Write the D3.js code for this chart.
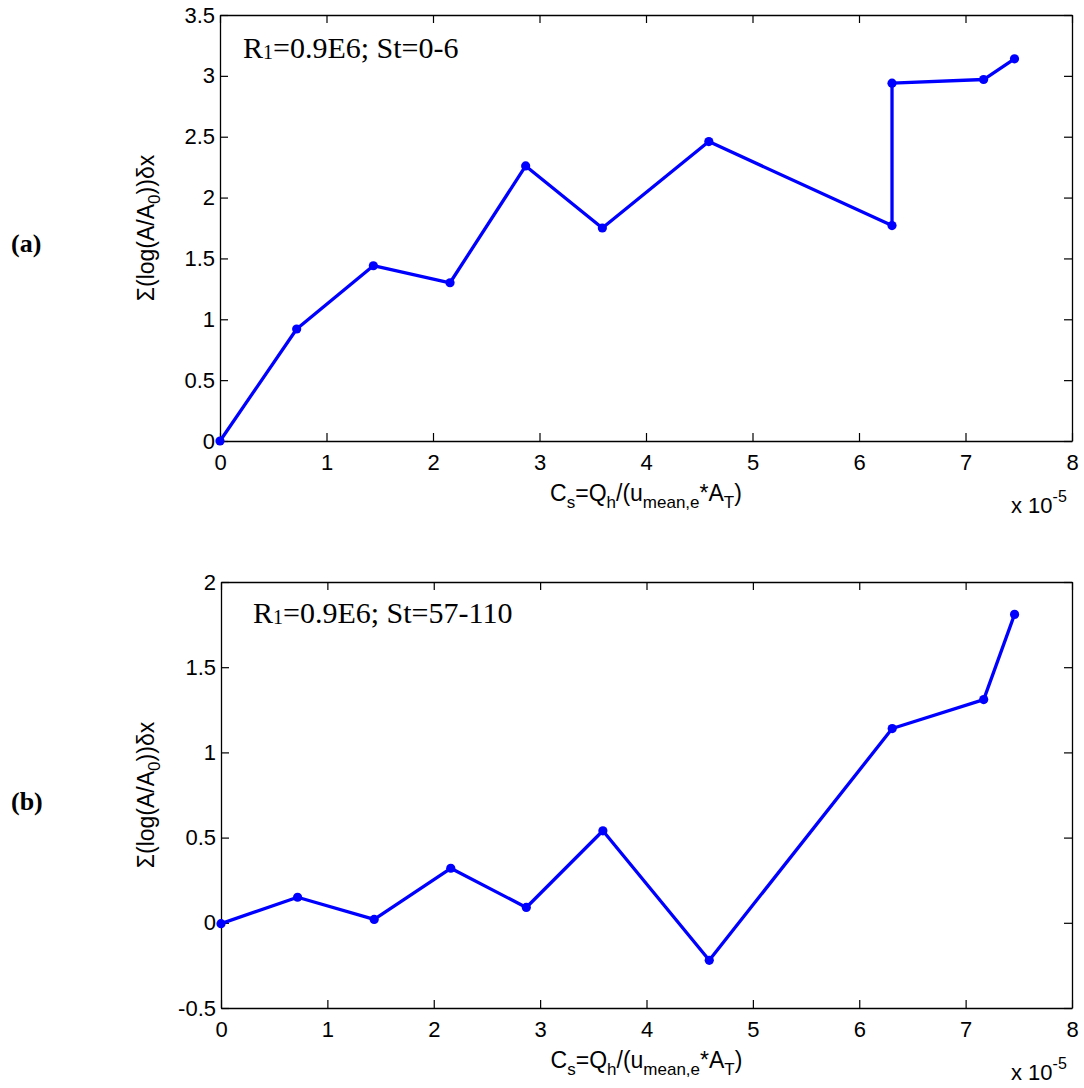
<!DOCTYPE html>
<html><head><meta charset="utf-8">
<script src="https://cdn.jsdelivr.net/npm/d3@7"></script>
<style>
body{margin:0;background:#fff;}
</style></head>
<body>
<svg id="chart" width="1084" height="1088"></svg>
<script>
// ---- data ----
const xTicks = [0,1,2,3,4,5,6,7,8];
const yTicksA = [0,0.5,1,1.5,2,2.5,3,3.5];
const yTicksB = [-0.5,0,0.5,1,1.5,2];
const xA = [0, 0.72, 1.44, 2.16, 2.87, 3.59, 4.59, 6.31, 6.31, 7.17, 7.46];
const yA = [0, 0.92, 1.44, 1.30, 2.26, 1.75, 2.46, 1.77, 2.94, 2.97, 3.14];
const xB = [0, 0.72, 1.44, 2.16, 2.87, 3.59, 4.59, 6.31, 7.17, 7.46];
const yB = [-0.005, 0.15, 0.02, 0.32, 0.09, 0.54, -0.22, 1.14, 1.31, 1.81];
const panelLabels = ["(a)", "(b)"];
const notes = [["R","1","=0.9E6; St=0-6"], ["R","1","=0.9E6; St=57-110"]];

const svg = d3.select("#chart");
const FS = 22;
const LFS = 23;
const SANS = "'Liberation Sans', Arial, sans-serif";
const SERIF = "'Liberation Serif', 'Times New Roman', serif";

function panel(cfg){
  const {left,right,top,bottom,xs,ys,yDomain,yTicks,label,note,noteX,noteY,labelY} = cfg;
  const x = d3.scaleLinear().domain([0,8]).range([left,right]);
  const y = d3.scaleLinear().domain(yDomain).range([bottom,top]);
  const g = svg.append("g").style("font-family",SANS);
  const fmt = d => String(d);

  const styleAxis = sel => {
    sel.attr("font-family",null).attr("font-size",null);
    sel.select(".domain").attr("stroke","#000").attr("stroke-width",1.3);
    sel.selectAll(".tick line").attr("stroke","#000").attr("stroke-width",1.2);
    sel.selectAll(".tick text").style("font-size",FS+"px").attr("fill","#000")
      .style("font-family",SANS);
  };
  g.append("g").attr("transform",`translate(0,${bottom})`)
    .call(d3.axisBottom(x).tickValues(xTicks).tickFormat(fmt).tickSizeInner(-8).tickSizeOuter(0).tickPadding(13))
    .call(styleAxis);
  g.append("g").attr("transform",`translate(0,${top})`)
    .call(d3.axisTop(x).tickValues(xTicks).tickFormat("").tickSizeInner(-8).tickSizeOuter(0))
    .call(styleAxis);
  g.append("g").attr("transform",`translate(${left},0)`)
    .call(d3.axisLeft(y).tickValues(yTicks).tickFormat(fmt).tickSizeInner(-8).tickSizeOuter(0).tickPadding(5))
    .call(styleAxis);
  g.append("g").attr("transform",`translate(${right},0)`)
    .call(d3.axisRight(y).tickValues(yTicks).tickFormat("").tickSizeInner(-8).tickSizeOuter(0))
    .call(styleAxis);

  const pts = xs.map((v,i)=>[v, ys[i]]);
  g.append("path").datum(pts)
    .attr("d", d3.line().x(d=>x(d[0])).y(d=>y(d[1])))
    .attr("fill","none").attr("stroke","#0000ff").attr("stroke-width",3.3)
    .attr("stroke-linejoin","round");
  g.selectAll("circle.pt").data(pts).join("circle")
    .attr("class","pt").attr("cx",d=>x(d[0])).attr("cy",d=>y(d[1]))
    .attr("r",4.6).attr("fill","#0000ff");

  // annotation (serif)
  const t = g.append("text").attr("x",noteX).attr("y",noteY)
    .style("font-family",SERIF).style("font-size","30px").attr("fill","#000");
  t.append("tspan").text(note[0]);
  t.append("tspan").style("font-size","20px").attr("dy",1).text(note[1]);
  t.append("tspan").attr("dy",-1).text(note[2]);

  // x label
  const xl = g.append("text").attr("x",(left+right)/2).attr("y",bottom+60)
    .attr("text-anchor","middle").style("font-size",LFS+"px").attr("fill","#000");
  const sub = (parent, s) => parent.append("tspan").style("font-size","17px").attr("dy",7).text(s);
  const norm = (parent, s) => parent.append("tspan").style("font-size",LFS+"px").attr("dy",-7).text(s);
  xl.append("tspan").text("C");
  sub(xl,"s"); norm(xl,"=Q"); sub(xl,"h"); norm(xl,"/(u"); sub(xl,"mean,e"); norm(xl,"*A"); sub(xl,"T"); norm(xl,")");

  // x10^-5
  const xe = g.append("text").attr("x",1011).attr("y",bottom+72).style("font-size",FS+"px").attr("fill","#000");
  xe.append("tspan").text("x 10");
  xe.append("tspan").style("font-size","16px").attr("dy",-11).text("-5");

  // y label
  const cy = (top+bottom)/2;
  const yl = g.append("text").attr("transform",`translate(154,${cy}) rotate(-90)`)
    .attr("text-anchor","middle").style("font-size",LFS+"px").attr("fill","#000");
  yl.append("tspan").text("\u03A3(log(A/A");
  yl.append("tspan").style("font-size","17px").attr("dy",6).text("0");
  yl.append("tspan").attr("dy",-6).text("))\u03B4x");

  // panel label (bold serif)
  g.append("text").attr("x",11).attr("y",labelY)
    .style("font-family",SERIF).style("font-weight","bold")
    .style("font-size","26px").attr("fill","#000").text(label);
}

panel({left:220,right:1072,top:15,bottom:441,xs:xA,ys:yA,yDomain:[0,3.5],yTicks:yTicksA,
  label:panelLabels[0],note:notes[0],noteX:243,noteY:58,labelY:252});
panel({left:221,right:1072,top:582,bottom:1008,xs:xB,ys:yB,yDomain:[-0.5,2],yTicks:yTicksB,
  label:panelLabels[1],note:notes[1],noteX:253,noteY:623,labelY:810});
</script>
</body></html>
